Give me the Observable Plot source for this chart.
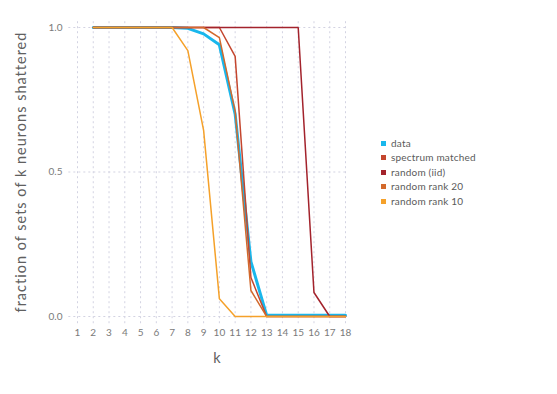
<!DOCTYPE html>
<html>
<head>
<meta charset="utf-8">
<script src="https://cdn.jsdelivr.net/npm/d3@7"></script>
<script src="https://cdn.jsdelivr.net/npm/@observablehq/plot@0.6"></script>
<style>
  html, body { margin: 0; padding: 0; background: #fff; }
  #wrap { position: relative; width: 557px; height: 394px; font-family: Lato, "DejaVu Sans", sans-serif; }
  #legend { position: absolute; left: 381px; top: 136px; font-size: 10px; color: #5a5a5a; line-height: 14.4px; letter-spacing: 0.2px; }
  #legend .sw { display: inline-block; width: 5px; height: 5px; margin-right: 5px; vertical-align: 1px; }
</style>
</head>
<body>
<div id="wrap"><div id="legend"></div></div>
<script>
const ks = d3.range(2, 19);
const seriesNames = ["data", "spectrum matched", "random (iid)", "random rank 20", "random rank 10"];
const seriesColors = ["#19b7ec", "#c4462e", "#a3232c", "#d3692c", "#f5a12a"];
const seriesWidths = [3, 1.5, 1.5, 1.5, 1.5];
// values for k = 2..18
const dataVals =       [1,1,1,1,1,1,0.997,0.978,0.94,0.70,0.19,0.004,0.004,0.004,0.004,0.004,0.004];
const spectrumVals =   [1,1,1,1,1,1,1,1,1,0.90,0.135,0,0,0,0,0,0];
const iidVals =        [1,1,1,1,1,1,1,1,1,1,1,1,1,1,0.083,0,0];
const rank20Vals =     [1,1,1,1,1,1,1,1,0.965,0.71,0.09,0,0,0,0,0,0];
const rank10Vals =     [1,1,1,1,1,1,0.92,0.644,0.061,0,0,0,0,0,0,0,0];
const xTicks = d3.range(1, 19);
const yTicks = [0, 0.5, 1];

const allVals = [dataVals, spectrumVals, iidVals, rank20Vals, rank10Vals];
const rows = [];
allVals.forEach((vals, i) => vals.forEach((v, j) => rows.push({series: seriesNames[i], k: ks[j], v})));

const grid = {stroke: "#d3d3e2", strokeDasharray: "2,3", strokeWidth: 1, strokeOpacity: 1};

const chart = Plot.plot({
  width: 557,
  height: 394,
  marginLeft: 77,
  marginRight: 212,
  marginTop: 27,
  marginBottom: 78,
  style: {fontFamily: "Lato, 'DejaVu Sans', sans-serif", background: "white"},
  x: {domain: [1, 18]},
  y: {domain: [0, 1]},
  marks: [
    Plot.ruleX(xTicks, {x: d => d, y1: -0.025, y2: 1.03, ...grid}),
    Plot.ruleY(yTicks, {y: d => d, x1: 0.45, x2: 18.15, ...grid}),
    ...seriesNames.map((name, i) => Plot.line(rows.filter(r => r.series === name), {
      x: "k", y: "v", stroke: seriesColors[i], strokeWidth: seriesWidths[i], strokeLinejoin: "miter", clip: false
    })),
    Plot.axisX({ticks: xTicks, tickSize: 0, tickPadding: 12, fontSize: 10, color: "#7a7a7a",
      label: "k", labelAnchor: "center", labelArrow: "none", labelOffset: 46}),
    Plot.axisY({ticks: yTicks, tickFormat: d3.format(".1f"), tickSize: 0, tickPadding: 15, fontSize: 10, color: "#7a7a7a",
      label: "fraction of sets of k neurons shattered", labelAnchor: "center", labelArrow: "none", labelOffset: 62})
  ]
});
chart.style.position = "absolute";
chart.style.left = "0";
chart.style.top = "0";
document.getElementById("wrap").prepend(chart);
chart.querySelectorAll("g[aria-label='x-axis label'] text, g[aria-label='y-axis label'] text").forEach(t => {
  t.setAttribute("font-size", "14.5");
  t.setAttribute("fill", "#606060");
  t.setAttribute("letter-spacing", "1");
});
chart.querySelectorAll("g[aria-label='x-axis label'] text").forEach(t => {
  t.setAttribute("dx", "6");
});

const legend = document.getElementById("legend");
seriesNames.forEach((name, i) => {
  const row = document.createElement("div");
  const sw = document.createElement("span");
  sw.className = "sw";
  sw.style.background = seriesColors[i];
  row.appendChild(sw);
  row.appendChild(document.createTextNode(name));
  legend.appendChild(row);
});
</script>
</body>
</html>
